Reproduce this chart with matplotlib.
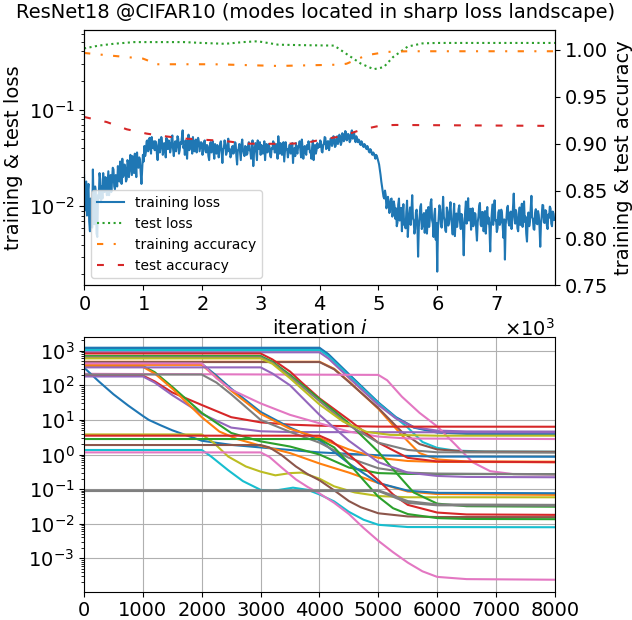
import matplotlib

matplotlib.use("Agg")
import matplotlib.pyplot as plt
import numpy as np
from matplotlib.ticker import LogLocator, NullFormatter

plt.rcParams["font.size"] = 14

# ---- top panel: losses (left, log) and accuracies (right) ----
loss_step = 12.5  # iterations between training-loss samples
train_loss = [
    # 0 - 287.5
    0.021, 0.009, 0.013, 0.018, 0.008, 0.014, 0.017, 0.007, 0.0055, 0.012, 0.011, 0.006,
    0.024, 0.010, 0.0065, 0.016, 0.014, 0.0052, 0.0048, 0.013, 0.012, 0.022, 0.019, 0.011,
    # 300 - 987.5
    0.016, 0.012, 0.022, 0.015, 0.014, 0.020, 0.019, 0.013, 0.017, 0.023, 0.013, 0.018,
    0.021, 0.014, 0.018, 0.025, 0.024, 0.016, 0.015, 0.021, 0.020, 0.016, 0.026, 0.019,
    0.018, 0.029, 0.023, 0.017, 0.031, 0.020, 0.021, 0.027, 0.025, 0.018, 0.019, 0.030,
    0.028, 0.020, 0.024, 0.034, 0.027, 0.021, 0.033, 0.024, 0.022, 0.035, 0.029, 0.020,
    0.036, 0.026, 0.025, 0.032, 0.030, 0.022, 0.017, 0.024,
    # 1000 - 1187.5
    0.034, 0.029, 0.042, 0.033, 0.036, 0.047, 0.048, 0.037, 0.039, 0.051, 0.045, 0.035,
    0.052, 0.040, 0.041, 0.047,
    # 1200 - 1987.5
    0.038, 0.047, 0.044, 0.035, 0.030, 0.042, 0.049, 0.036, 0.041, 0.052, 0.046, 0.034,
    0.037, 0.045, 0.043, 0.032, 0.051, 0.040, 0.039, 0.048, 0.045, 0.036, 0.040, 0.050,
    0.054, 0.039, 0.033, 0.044, 0.047, 0.037, 0.042, 0.053, 0.050, 0.035, 0.038, 0.046,
    0.044, 0.052, 0.061, 0.040, 0.043, 0.034, 0.048, 0.041, 0.031, 0.045, 0.055, 0.038,
    0.041, 0.050, 0.046, 0.035, 0.052, 0.042, 0.037, 0.047, 0.049, 0.036, 0.044, 0.051,
    0.047, 0.037, 0.041, 0.046,
    # 2000 - 3987.5
    0.045, 0.034, 0.039, 0.046, 0.048, 0.037, 0.036, 0.043, 0.042, 0.033, 0.030, 0.041,
    0.046, 0.036, 0.040, 0.047, 0.037, 0.031, 0.044, 0.038, 0.035, 0.043, 0.041, 0.032,
    0.038, 0.045, 0.047, 0.036, 0.028, 0.039, 0.040, 0.048, 0.043, 0.034, 0.036, 0.044,
    0.050, 0.037, 0.039, 0.032, 0.034, 0.041, 0.042, 0.035, 0.037, 0.046, 0.045, 0.033,
    0.027, 0.038, 0.039, 0.044, 0.036, 0.030, 0.044, 0.049, 0.038, 0.035, 0.033, 0.042,
    0.041, 0.034, 0.035, 0.043, 0.046, 0.038, 0.037, 0.031, 0.043, 0.048, 0.026, 0.036,
    0.040, 0.045, 0.036, 0.030, 0.048, 0.040, 0.039, 0.046, 0.034, 0.043, 0.042, 0.035,
    0.038, 0.047, 0.030, 0.039, 0.044, 0.036, 0.037, 0.044, 0.041, 0.033, 0.032, 0.040,
    0.039, 0.047, 0.045, 0.036, 0.036, 0.044, 0.040, 0.031, 0.053, 0.041, 0.035, 0.045,
    0.042, 0.034, 0.038, 0.046, 0.029, 0.037, 0.046, 0.039, 0.039, 0.032, 0.036, 0.043,
    0.043, 0.035, 0.037, 0.045, 0.028, 0.038, 0.040, 0.033, 0.045, 0.037, 0.035, 0.042,
    0.041, 0.047, 0.038, 0.032, 0.049, 0.040, 0.031, 0.039, 0.042, 0.036, 0.034, 0.043,
    0.039, 0.047, 0.044, 0.036, 0.037, 0.031, 0.041, 0.048, 0.030, 0.039, 0.043, 0.035,
    0.038, 0.045, 0.040, 0.043,
    # 4000 - 4587.5
    0.041, 0.048, 0.046, 0.037, 0.036, 0.043, 0.044, 0.052, 0.051, 0.039, 0.040, 0.047,
    0.047, 0.038, 0.043, 0.050, 0.050, 0.042, 0.045, 0.053, 0.049, 0.041, 0.042, 0.050,
    0.053, 0.044, 0.047, 0.055, 0.051, 0.043, 0.046, 0.057, 0.055, 0.047, 0.049, 0.060,
    0.058, 0.048, 0.050, 0.056, 0.054, 0.046, 0.048, 0.057, 0.061, 0.050, 0.052, 0.058,
    # 4600 - 4987.5
    0.049, 0.046, 0.053, 0.050, 0.046, 0.049, 0.048, 0.044, 0.043, 0.047, 0.045, 0.042,
    0.041, 0.044, 0.043, 0.040, 0.039, 0.042, 0.040, 0.037, 0.036, 0.039, 0.038, 0.035,
    0.034, 0.036, 0.035, 0.033, 0.031, 0.034, 0.033, 0.031,
    # 5000 - 5287.5
    0.029, 0.027, 0.024, 0.021, 0.018, 0.016, 0.014, 0.0125, 0.012, 0.0145, 0.013, 0.0095,
    0.0105, 0.0125, 0.011, 0.0085, 0.0095, 0.0118, 0.012, 0.0078, 0.0085, 0.0112, 0.010, 0.0074,
    # 5300 - 7987.5
    0.0095, 0.0062, 0.0068, 0.0104, 0.012, 0.0071, 0.0078, 0.0096, 0.0055, 0.0083,
    0.0105, 0.0064, 0.0072, 0.0059, 0.0088, 0.0114, 0.0048, 0.0069, 0.0082, 0.0097,
    0.0064, 0.0088, 0.013, 0.0075, 0.0071, 0.0052, 0.0058, 0.0086, 0.0092, 0.0067,
    0.0030, 0.0061, 0.0076, 0.0099, 0.0105, 0.0058, 0.0062, 0.0081, 0.0085, 0.0053,
    0.0069, 0.0091, 0.0052, 0.0073, 0.0098, 0.0061, 0.0074, 0.0109, 0.0118, 0.0072,
    0.0066, 0.0048, 0.0081, 0.0094, 0.0045, 0.0067, 0.0021, 0.0058, 0.0077, 0.0102,
    0.0093, 0.0065, 0.0060, 0.0082, 0.0125, 0.0078, 0.0071, 0.0056, 0.0054, 0.0097,
    0.0087, 0.0063, 0.0068, 0.0091, 0.011, 0.0074, 0.0063, 0.0051, 0.0079, 0.0106,
    0.0049, 0.0072, 0.0084, 0.0061, 0.0072, 0.0093, 0.0102, 0.0068, 0.0058, 0.0083,
    0.0075, 0.0056, 0.0031, 0.0064, 0.0089, 0.0112, 0.0066, 0.0078, 0.0121, 0.0071,
    0.0073, 0.0094, 0.0057, 0.0079, 0.0095, 0.0062, 0.0069, 0.0085, 0.0083, 0.0057,
    0.0044, 0.0068, 0.0078, 0.0101, 0.0108, 0.0064, 0.0062, 0.0087, 0.0087, 0.0055,
    0.0067, 0.0089, 0.0052, 0.0074, 0.0098, 0.0066, 0.0076, 0.0059, 0.0034, 0.0063,
    0.0081, 0.0104, 0.0064, 0.0082, 0.0115, 0.0071, 0.0072, 0.0054, 0.0059, 0.0086,
    0.0091, 0.0064, 0.0068, 0.0092, 0.0085, 0.0061, 0.0047, 0.0073, 0.0028, 0.0065,
    0.0074, 0.0096, 0.0101, 0.0067, 0.0063, 0.0084, 0.0088, 0.0058, 0.0071, 0.0098,
    0.0135, 0.0079, 0.0066, 0.0091, 0.0082, 0.0059, 0.0055, 0.0077, 0.0097, 0.0064,
    0.0073, 0.0106, 0.0061, 0.0083, 0.0112, 0.0069, 0.0078, 0.0052, 0.0043, 0.0071,
    0.0086, 0.0062, 0.0069, 0.0094, 0.0128, 0.0077, 0.0074, 0.0058, 0.0057, 0.0085,
    0.0093, 0.0067, 0.0065, 0.0089, 0.0081, 0.0061, 0.0038, 0.0066, 0.0079, 0.0103,
    0.0102, 0.0068, 0.0067, 0.0091, 0.0089, 0.0063, 0.0058, 0.0082, 0.0076, 0.0099,
    0.0095, 0.0066, 0.0062, 0.0088, 0.0084, 0.0072,
]

test_loss_iter = [0, 250, 500, 850, 1300, 1700, 2000, 2400, 2700, 2950, 3300, 3700, 4250,
                  4450, 4700, 4920, 5090, 5250, 5500, 5750, 6000, 7000, 7999]
test_loss = [0.43, 0.46, 0.48, 0.50, 0.50, 0.50, 0.49, 0.48, 0.50, 0.51, 0.47, 0.465, 0.46,
             0.38, 0.30, 0.262, 0.275, 0.35, 0.45, 0.485, 0.49, 0.49, 0.49]

train_acc_iter = [0, 385, 1000, 1100, 1180, 2200, 3300, 4350, 4460, 4800, 5140, 5500, 7999]
train_acc = [0.9964, 0.994, 0.9904, 0.988, 0.9844, 0.9844, 0.9826, 0.984, 0.985, 0.994,
             0.9975, 0.9982, 0.9982]

test_acc_iter = [0, 385, 725, 1065, 1375, 1715, 2395, 2735, 3075, 3415, 3750, 4035, 4375,
                 4715, 5055, 5300, 7999]
test_acc = [0.9285, 0.9231, 0.9154, 0.9108, 0.908, 0.9055, 0.903, 0.9002, 0.900, 0.900,
            0.9007, 0.9045, 0.908, 0.915, 0.9196, 0.920, 0.919]

# ---- bottom panel: one knot list (iteration, value) per mode ----
mode_colors = ["C0", "C0", "C9", "C4", "C1", "C5", "C6", "C0", "C3", "C4", "C2", "C1",
               "C0", "C1", "C7", "C8", "C9", "C6", "C3", "C2", "C7", "C8", "C4", "C5",
               "C6", "C3", "C2", "C7", "C7"]
mode_curves = [
    [(0, 1220), (4000, 1220), (4150, 800), (4500, 210), (5000, 32), (5300, 12), (5600, 6.2),
     (6000, 4.5), (6500, 4.15), (8000, 4.1)],
    [(0, 1150), (4000, 1150), (4150, 760), (4500, 200), (5000, 31), (5300, 11.5), (5600, 6),
     (6000, 4.3), (6500, 3.95), (8000, 3.9)],
    [(0, 1050), (4000, 1050), (4150, 700), (4500, 190), (5000, 30), (5500, 6), (5750, 2.3),
     (6000, 1.55), (6300, 1.3), (6800, 1.22), (8000, 1.2)],
    [(0, 900), (4000, 900), (4150, 600), (4500, 165), (5000, 27), (5300, 11), (5600, 6.2),
     (6000, 4.9), (6500, 4.65), (8000, 4.6)],
    [(0, 480), (4000, 480), (4250, 300), (4500, 130), (5000, 21), (5400, 3.6), (5700, 1.1),
     (6000, 0.72), (6500, 0.63), (8000, 0.62)],
    [(0, 470), (4000, 470), (4250, 290), (4500, 125), (5000, 22), (5400, 4.5), (5700, 2.0),
     (6000, 1.4), (6500, 1.22), (8000, 1.2)],
    [(0, 215), (5000, 200), (5150, 140), (5400, 47), (5700, 16), (6000, 6.5), (6300, 2.0),
     (6600, 0.6), (6900, 0.33), (7300, 0.27), (8000, 0.26)],
    [(0, 325), (250, 130), (500, 55), (750, 26), (1000, 13), (1100, 10), (1300, 7), (1500, 5),
     (2000, 2.5), (2500, 1.9), (3000, 1.6), (3500, 1.35), (4000, 1.15), (5000, 0.95),
     (6000, 0.87), (8000, 0.86)],
    [(0, 190), (1000, 190), (1200, 130), (1500, 62), (2000, 27), (2500, 12), (3000, 8.5),
     (3500, 7.3), (4000, 6.8), (5000, 6.4), (8000, 6.35)],
    [(0, 180), (1000, 180), (1200, 120), (1500, 52), (2000, 15), (2500, 6), (3000, 4.7),
     (3500, 4.45), (8000, 4.35)],
    [(0, 360), (1000, 360), (1200, 240), (1500, 90), (2000, 16), (2500, 4.2), (3000, 2.4),
     (3500, 1.7), (4000, 1.0), (4500, 0.42), (5000, 0.29), (5500, 0.275), (8000, 0.27)],
    [(0, 340), (1000, 340), (1200, 220), (1500, 80), (2000, 12), (2300, 4.6), (2600, 2.8),
     (3000, 1.8), (3500, 1.1), (4000, 0.55), (4500, 0.3), (5000, 0.15), (5500, 0.085),
     (6000, 0.072), (8000, 0.068)],
    [(0, 420), (2000, 420), (2250, 190), (2500, 80), (3000, 17), (3500, 6), (4000, 2.6),
     (4500, 0.55), (5000, 0.15), (5500, 0.09), (6000, 0.078), (8000, 0.076)],
    [(0, 390), (2000, 390), (2250, 170), (2500, 70), (3000, 15), (3500, 5.5), (4000, 3.0),
     (4500, 1.4), (5000, 0.8), (5500, 0.65), (6000, 0.61), (8000, 0.6)],
    [(0, 205), (2000, 205), (2250, 120), (2500, 55), (3000, 10), (3500, 4.5), (4000, 2.2),
     (4500, 0.8), (5000, 0.4), (5500, 0.3), (6000, 0.28), (8000, 0.27)],
    [(0, 3.8), (2000, 3.8), (2200, 2.2), (2450, 0.87), (2750, 0.45), (3000, 0.32),
     (3250, 0.25), (3500, 0.29), (3700, 0.3), (4000, 0.2), (4250, 0.12), (4600, 0.08),
     (5000, 0.063), (5500, 0.058), (8000, 0.058)],
    [(0, 1.35), (2000, 1.35), (2150, 0.9), (2450, 0.35), (2700, 0.17), (3000, 0.095),
     (3200, 0.088), (3550, 0.11), (3800, 0.095), (4000, 0.07), (4250, 0.044), (4500, 0.022),
     (4750, 0.013), (5000, 0.0093), (5500, 0.008), (8000, 0.0079)],
    [(0, 430), (2000, 430), (2250, 160), (2500, 75), (3000, 30), (3500, 14), (4000, 8),
     (4500, 4.6), (5000, 3.3), (5500, 2.9), (8000, 2.8)],
    [(0, 830), (3000, 830), (3200, 560), (3500, 250), (3700, 120), (4000, 42), (4500, 10),
     (5000, 2.2), (5500, 0.8), (6000, 0.63), (8000, 0.6)],
    [(0, 700), (3000, 700), (3200, 480), (3500, 200), (4000, 40), (4500, 8), (5000, 1.2),
     (5300, 0.3), (5600, 0.08), (6000, 0.038), (6500, 0.032), (8000, 0.031)],
    [(0, 650), (3000, 650), (3200, 450), (3500, 180), (4000, 35), (4500, 7), (5000, 2.2),
     (5500, 1.35), (6000, 1.16), (8000, 1.13)],
    [(0, 600), (3000, 600), (3200, 420), (3500, 160), (4000, 28), (4400, 9), (4800, 4.5),
     (5200, 3.7), (6000, 3.5), (8000, 3.5)],
    [(0, 330), (3000, 330), (3200, 220), (3500, 100), (4000, 14), (4500, 2.5), (5000, 0.6),
     (5500, 0.3), (6000, 0.24), (6500, 0.225), (8000, 0.22)],
    [(0, 1.88), (3000, 1.88), (3150, 1.6), (3350, 0.98), (3600, 0.45), (3800, 0.27),
     (4000, 0.18), (4250, 0.092), (4500, 0.045), (4700, 0.03), (5000, 0.02), (5500, 0.0162),
     (6000, 0.0156), (8000, 0.0155)],
    [(0, 1.15), (3000, 1.15), (3150, 0.85), (3350, 0.43), (3600, 0.19), (3800, 0.115),
     (4000, 0.075), (4250, 0.04), (4500, 0.019), (4750, 0.0075), (5000, 0.0032),
     (5250, 0.0015), (5500, 7.5e-4), (5750, 4.2e-4), (6000, 2.9e-4), (6500, 2.5e-4),
     (8000, 2.4e-4)],
    [(0, 3.5), (4000, 3.5), (4200, 2.5), (4500, 1.0), (5000, 0.18), (5250, 0.07),
     (5500, 0.035), (6000, 0.021), (6500, 0.0185), (8000, 0.018)],
    [(0, 2.8), (4000, 2.8), (4250, 1.6), (4500, 0.55), (4750, 0.18), (5000, 0.06),
     (5250, 0.028), (5500, 0.019), (6000, 0.0145), (6500, 0.0137), (8000, 0.0135)],
    [(0, 0.092), (5000, 0.092), (5200, 0.07), (5500, 0.045), (6000, 0.036), (8000, 0.035)],
    [(0, 0.088), (5000, 0.088), (5250, 0.06), (5500, 0.04), (6000, 0.034), (8000, 0.033)],
]


def main() -> None:
    fig = plt.figure(figsize=(6.32, 6.2), dpi=100)
    ax = fig.add_axes([0.133, 0.540, 0.745, 0.412])
    ax2 = ax.twinx()

    it = np.arange(len(train_loss)) * loss_step
    h1, = ax.plot(it, train_loss, color="C0", lw=1.5, label="training loss")
    h2, = ax.plot(test_loss_iter, test_loss, color="C2", ls=":", lw=1.5, label="test loss")
    h3, = ax2.plot(train_acc_iter, train_acc, color="C1", ls=(0, (3, 5, 1, 5)), lw=1.5,
                   label="training accuracy")
    h4, = ax2.plot(test_acc_iter, test_acc, color="C3", ls=(0, (3.3, 6.7)), lw=1.5,
                   label="test accuracy")

    ax.set_yscale("log")
    ax.set_xlim(0, 7999)
    ax.set_ylim(0.00152, 0.671)
    ax2.set_ylim(0.75, 1.021)
    ax.ticklabel_format(axis="x", style="sci", scilimits=(0, 0), useMathText=True)
    ax.set_xlabel("iteration $i$")
    ax.set_ylabel("training & test loss")
    ax2.set_ylabel("training & test accuracy")
    hs = [h1, h2, h3, h4]
    ax2.legend(hs, [h.get_label() for h in hs], loc="lower left", fontsize=10)
    fig.suptitle("ResNet18 @CIFAR10 (modes located in sharp loss landscape)",
                 x=0.5, y=0.995, va="top", fontsize=14)

    axb = fig.add_axes([0.133, 0.0456, 0.745, 0.4116])
    for col, knots in zip(mode_colors, mode_curves):
        xs, ys = zip(*knots)
        axb.plot(xs, ys, color=col, lw=1.5)
    axb.set_yscale("log")
    axb.set_xlim(0, 8000)
    axb.set_ylim(1.08e-4, 2570)
    axb.set_xticks(range(0, 8001, 1000))
    axb.yaxis.set_major_locator(LogLocator(base=10, numticks=20))
    axb.yaxis.set_minor_locator(LogLocator(base=10, subs=np.arange(2, 10), numticks=100))
    axb.yaxis.set_minor_formatter(NullFormatter())
    axb.grid(True)

    fig.savefig("out.png", dpi=100)


if __name__ == "__main__":
    main()
